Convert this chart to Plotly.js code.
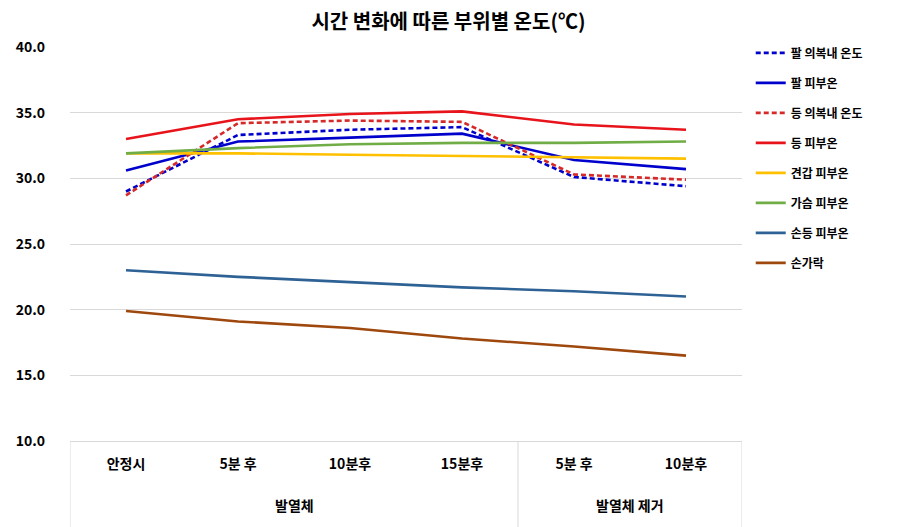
<!DOCTYPE html>
<html><head><meta charset="utf-8">
<script src="https://cdn.plot.ly/plotly-3.0.1.min.js"></script>
<style>body{margin:0;background:#fff}#chart{width:897px;height:527px}</style>
</head><body><div id="chart"></div>
<script>
const categories = ['안정시','5분 후','10분후','15분후','5분 후','10분후'];
const groups = ['발열체','발열체','발열체','발열체','발열체 제거','발열체 제거'];
const seriesNames = ['팔 의복내 온도','팔 피부온','등 의복내 온도','등 피부온','견갑 피부온','가슴 피부온','손등 피부온','손가락'];
const armCloth  = [29.0, 33.3, 33.7, 33.9, 30.1, 29.4];
const armSkin   = [30.6, 32.8, 33.1, 33.4, 31.4, 30.7];
const backCloth = [28.7, 34.2, 34.4, 34.3, 30.3, 29.9];
const backSkin  = [33.0, 34.5, 34.9, 35.1, 34.1, 33.7];
const scapSkin  = [31.9, 31.9, 31.8, 31.7, 31.6, 31.5];
const chestSkin = [31.9, 32.3, 32.6, 32.7, 32.7, 32.8];
const handSkin  = [23.0, 22.5, 22.1, 21.7, 21.4, 21.0];
const finger    = [19.9, 19.1, 18.6, 17.8, 17.2, 16.5];
const yTicks = [10, 15, 20, 25, 30, 35, 40];

const seriesValues = [armCloth, armSkin, backCloth, backSkin, scapSkin, chestSkin, handSkin, finger];
const colors = ['#0000CC','#0000CC','#D62A2A','#E8141B','#FFC000','#70AD47','#2E6295','#9E480E'];
const dashes = ['5px,3px','solid','5px,3px','solid','solid','solid','solid','solid'];
const xIdx = categories.map((c,i)=>i);

const traces = seriesNames.map((n,k)=>({
  type:'scatter', mode:'lines', name:'<b>'+n+'</b>', x:xIdx, y:seriesValues[k],
  legendgroup:'g'+k,
  line:{color:colors[k], width:2.6, dash:dashes[k]},
  hoverinfo:'y+name'
}));

const font = '"Noto Sans CJK KR", "Noto Sans", sans-serif';
const uniq = [...new Set(groups)];
const annotations = uniq.map(g=>{
  const idx = xIdx.filter(i=>groups[i]===g);
  const mid = (idx[0]+idx[idx.length-1])/2;
  return {x:mid, xref:'x', y:-0.163, yref:'paper', text:'<b>'+g+'</b>', showarrow:false,
          font:{family:font, size:14, color:'#000'}, yanchor:'middle'};
});
const bounds = [ -0.5 ];
uniq.forEach(g=>{ const idx = xIdx.filter(i=>groups[i]===g); bounds.push(idx[idx.length-1]+0.5); });
const shapes = bounds.map(b=>({type:'line', xref:'x', x0:b, x1:b, yref:'paper', y0:0, y1:-0.23,
  line:{color:'#d9d9d9', width:1}}));

const layout = {
  width:897, height:527,
  margin:{l:70, r:155, t:47, b:86},
  paper_bgcolor:'#fff', plot_bgcolor:'#fff',
  title:{text:'<b>시간 변화에 따른 부위별 온도(℃)</b>', x:0.5, xref:'container', xanchor:'center', y:1-22/527, yref:'container', yanchor:'middle',
         font:{family:font, size:20, color:'#000'}},
  xaxis:{range:[-0.5,5.5], tickvals:xIdx, ticktext:categories.map(c=>'<b>'+c+'</b>'),
         showgrid:false, zeroline:false, showline:true, linecolor:'#d9d9d9', linewidth:1,
         ticks:'', ticklabelstandoff:10, tickfont:{family:font, size:14, color:'#000'}, fixedrange:true},
  yaxis:{range:[10,40], tickvals:yTicks, ticktext:yTicks.map(v=>'<b>'+v.toFixed(1)+'</b>'),
         showgrid:true, gridcolor:'#d9d9d9', gridwidth:1, zeroline:false, showline:false,
         ticks:'', ticklabelstandoff:24, tickfont:{family:font, size:14, color:'#000'}, fixedrange:true},
  legend:{x:1.013, xref:'paper', xanchor:'left', y:1.022, yanchor:'top', traceorder:'grouped', tracegroupgap:11,
          font:{family:font, size:12, color:'#000'}, bgcolor:'rgba(0,0,0,0)'},
  showlegend:true,
  annotations:annotations,
  shapes:shapes
};
Plotly.newPlot('chart', traces, layout, {displayModeBar:false, staticPlot:true});
</script></body></html>
